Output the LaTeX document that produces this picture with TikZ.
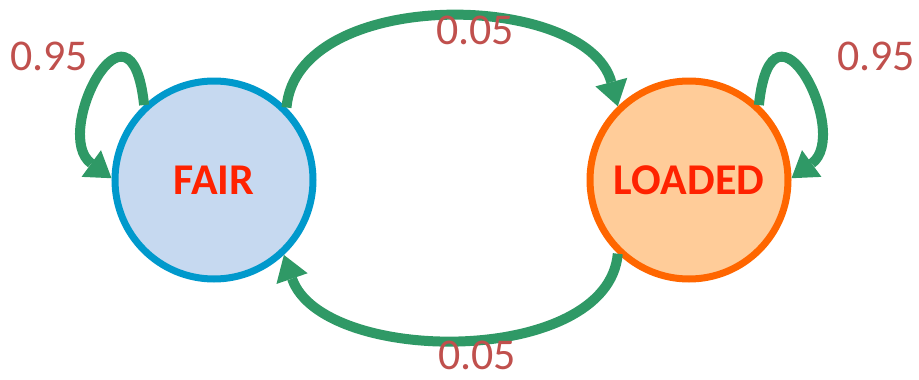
\documentclass[tikz,border=0pt]{standalone}
\usepackage{fontspec}
\setmainfont{Carlito}
\usetikzlibrary{arrows.meta}
\definecolor{arcgreen}{HTML}{2F9966}
\definecolor{probred}{HTML}{C0504D}
\definecolor{txtred}{HTML}{FF2200}
\definecolor{fairfill}{HTML}{C6D9F0}
\definecolor{fairline}{HTML}{0099CC}
\definecolor{loadfill}{HTML}{FFCC99}
\definecolor{loadline}{HTML}{FF6600}

\begin{document}
\begin{tikzpicture}[
    state/.style={circle, minimum size=3.96cm, line width=0.14cm,
      font=\fontsize{25}{30}\selectfont\bfseries, text=txtred},
    trans/.style={draw=arcgreen, line width=0.2cm,
      -{Triangle[width=0.66cm, length=0.5cm, line width=0pt]}},
    prob/.style={text=probred, inner sep=0pt, font=\fontsize{25}{30}\selectfont}]
  \useasboundingbox (0,0) rectangle (18.38,7.58);

  \node[state, draw=fairline, fill=fairfill] (fair) at (4.28,3.98) {FAIR};
  \node[state, draw=loadline, fill=loadfill] (loaded) at (13.78,3.98) {LOADED};

  % self loops
  \draw[trans] (fair.133) .. controls +(96:2.52) and +(144:1.5) .. (fair.179);
  \draw[trans] (loaded.47) .. controls +(84:2.52) and +(36:1.5) .. (loaded.1);

  % switching
  \draw[trans] (fair.45) .. controls +(85:2.44) and +(105:2.4) .. (loaded.134);
  \draw[trans] (loaded.-134) .. controls +(-95:2.28) and +(-71:2.34) .. (fair.-47);

  \node[prob] (pff) at (0.98,6.46) {0.95};
  \node[prob] (pll) at (17.52,6.46) {0.95};
  \node[prob] (pfl) at (9.5,6.98) {0.05};
  \node[prob] (plf) at (9.54,0.47) {0.05};
\end{tikzpicture}
\end{document}
